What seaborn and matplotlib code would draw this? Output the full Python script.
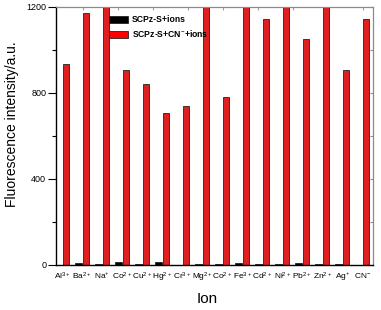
import numpy as np
import pandas as pd
import matplotlib
matplotlib.use("Agg")
import matplotlib.pyplot as plt
import seaborn as sns
from matplotlib.transforms import ScaledTranslation
from matplotlib.ticker import MultipleLocator
from matplotlib.patches import Patch

# ---- data ----
ion_keys = ["Al", "Ba", "Na", "Co", "Cu", "Hg", "Cr", "Mg", "Co_b", "Fe",
            "Cd", "Ni", "Pb", "Zn", "Ag", "CN"]
ion_labels = ["Al$^{3+}$", "Ba$^{2+}$", "Na$^{+}$", "Co$^{2+}$", "Cu$^{2+}$",
              "Hg$^{2+}$", "Cr$^{3+}$", "Mg$^{2+}$", "Co$^{2+}$", "Fe$^{3+}$",
              "Cd$^{2+}$", "Ni$^{2+}$", "Pb$^{2+}$", "Zn$^{2+}$", "Ag$^{+}$",
              "CN$^{-}$"]
ions_only = [1, 8, 6, 14, 5, 12, 2, 3, 5, 11, 5, 5, 11, 5, 5, np.nan]
ions_cn = [935, 1172, 1300, 907, 840, 708, 741, 1300, 780, 1300, 1143, 1300,
           1050, 1300, 907, 1144]
series_names = ["SCPz-S+ions", "SCPz-S+CN$^{-}$+ions"]

df = pd.concat([
    pd.DataFrame({"ion": ion_keys, "value": ions_only, "series": series_names[0]}),
    pd.DataFrame({"ion": ion_keys, "value": ions_cn, "series": series_names[1]}),
], ignore_index=True)

plt.rcParams["font.family"] = ["Liberation Sans", "DejaVu Sans"]
plt.rcParams["mathtext.fontset"] = "custom"
plt.rcParams["mathtext.rm"] = "Liberation Sans"
plt.rcParams["mathtext.it"] = "Liberation Sans:italic"
plt.rcParams["mathtext.bf"] = "Liberation Sans:bold"

fig = plt.figure(figsize=(3.81, 3.10), dpi=100)
ax = fig.add_axes([56/381, 1-265/310, (373-56)/381, (265-7)/310])

colors = {series_names[0]: "#000000", series_names[1]: "#ff0000"}
sns.barplot(data=df, x="ion", y="value", hue="series", order=ion_keys,
            hue_order=series_names, palette=colors, width=0.75, gap=0.12,
            edgecolor="#222222", linewidth=0.6, errorbar=None, ax=ax,
            legend=False)

ax.set_xlim(-0.3125, 15.54)
ax.set_ylim(0, 1200)
ax.yaxis.set_major_locator(MultipleLocator(400))
ax.yaxis.set_minor_locator(MultipleLocator(200))
ax.set_xticks(range(len(ion_keys)))
ax.set_xticklabels(ion_labels, fontsize=6.0)
shift = ScaledTranslation(7/100, 0, fig.dpi_scale_trans)
for lab in ax.get_xticklabels():
    lab.set_transform(lab.get_transform() + shift)
ax.tick_params(axis="x", length=0, pad=4)
ax.tick_params(axis="y", which="major", length=6, width=0.8, labelsize=6.5, pad=1)
ax.tick_params(axis="y", which="minor", length=3, width=0.8)

for s in ["left", "bottom"]:
    ax.spines[s].set_color("black")
    ax.spines[s].set_linewidth(1.0)
for s in ["top", "right"]:
    ax.spines[s].set_visible(True)
    ax.spines[s].set_color("#8a8a8a")
    ax.spines[s].set_linewidth(0.8)

sec_y = ax.secondary_yaxis("right")
sec_y.yaxis.set_major_locator(MultipleLocator(200))
sec_y.tick_params(direction="in", length=2.5, color="#8a8a8a", labelright=False)
sec_y.spines["right"].set_color("#8a8a8a")
sec_y.spines["right"].set_linewidth(0.8)
sec_x = ax.secondary_xaxis("top")
sec_x.xaxis.set_major_locator(MultipleLocator(1.75, offset=1.04))
sec_x.tick_params(direction="in", length=2, color="#a0a0a0", labeltop=False)
sec_x.spines["top"].set_color("#8a8a8a")
sec_x.spines["top"].set_linewidth(0.8)

ax.set_xlabel("Ion", fontsize=11)
ax.set_ylabel("Fluorescence intensity/a.u.", fontsize=10)
ax.xaxis.set_label_coords((207-56)/317, (265-292)/258)
ax.yaxis.set_label_coords((19-56)/317, (265-124)/258)

handles = [Patch(facecolor=colors[n], edgecolor="#222222", linewidth=0.6) for n in series_names]
leg = ax.legend(handles, series_names, loc="upper left",
                bbox_to_anchor=(109/381, 1-15.5/310), bbox_transform=fig.transFigure,
                frameon=False, borderpad=0, borderaxespad=0,
                handlelength=2.2, handleheight=1.0, handletextpad=0.45,
                labelspacing=0.45, prop={"size": 6.2, "weight": "bold"})

fig.savefig("out.png", dpi=100)
